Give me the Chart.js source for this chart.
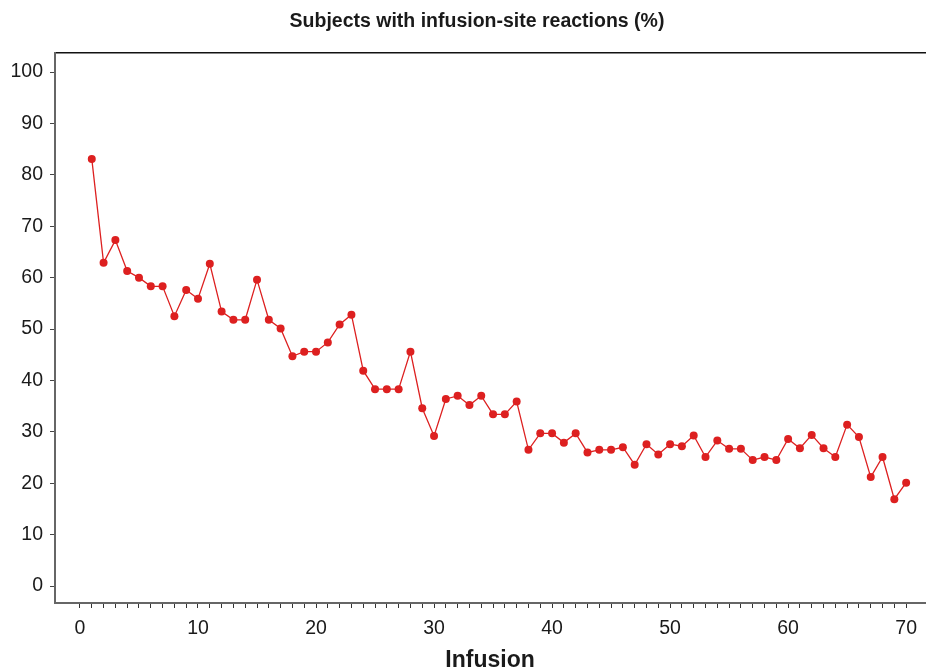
<!DOCTYPE html>
<html>
<head>
<meta charset="utf-8">
<script src="https://cdn.jsdelivr.net/npm/chart.js@4.4.1/dist/chart.umd.min.js"></script>
<style>
html,body{margin:0;padding:0;background:#fff;}
canvas{display:block;}
</style>
</head>
<body>
<canvas id="c" width="926" height="670"></canvas>
<script>
const chartTitle = "Subjects with infusion-site reactions (%)";
const xAxisTitle = "Infusion";
const infusions = [1,2,3,4,5,6,7,8,9,10,11,12,13,14,15,16,17,18,19,20,21,22,23,24,25,26,27,28,29,30,31,32,33,34,35,36,37,38,39,40,41,42,43,44,45,46,47,48,49,50,51,52,53,54,55,56,57,58,59,60,61,62,63,64,65,66,67,68,69,70];
const pctSubjects = [83.1,62.9,67.3,61.3,60.0,58.3,58.3,52.5,57.6,55.9,
  62.7,53.4,51.8,51.8,59.6,51.8,50.1,44.7,45.6,45.6,
  47.4,50.9,52.8,41.9,38.3,38.3,38.3,45.6,34.6,29.2,
  36.4,37.0,35.2,37.0,33.4,33.4,35.9,26.5,29.7,29.7,
  27.9,29.7,26.0,26.5,26.5,27.0,23.6,27.6,25.6,27.6,
  27.2,29.3,25.1,28.3,26.7,26.7,24.5,25.1,24.5,28.6,
  26.8,29.4,26.8,25.1,31.4,29.0,21.2,25.1,16.9,20.1];
const xMajorTicks = [0,10,20,30,40,50,60,70];
const yTicks = [0,10,20,30,40,50,60,70,80,90,100];

const xMinorTicks = [];
for (let v = 0; v <= 70; v++) xMinorTicks.push(v);

const points = infusions.map((x, i) => ({x: x, y: pctSubjects[i]}));
const red = '#dd2020';

const shiftTitle = {
  id: 'shiftTitle',
  afterLayout(chart) {
    if (chart.titleBlock) chart.titleBlock.left += 28;
  }
};

new Chart(document.getElementById('c'), {
  type: 'line',
  data: {
    datasets: [{
      data: points,
      borderColor: red,
      backgroundColor: red,
      borderWidth: 1.3,
      pointRadius: 4,
      pointBorderWidth: 0,
      pointBackgroundColor: red,
      tension: 0
    }]
  },
  plugins: [shiftTitle],
  options: {
    responsive: false,
    animation: false,
    devicePixelRatio: 1,
    layout: {padding: 0, autoPadding: false},
    plugins: {
      legend: {display: false},
      tooltip: {enabled: false},
      title: {
        display: true,
        text: chartTitle,
        color: '#1a1a1a',
        font: {family: 'Liberation Sans', size: 19.5, weight: 'bold'},
        padding: {top: 10, bottom: 19.6}
      }
    },
    scales: {
      x: {
        type: 'linear',
        position: 'bottom',
        min: -2.116,
        max: 71.61,
        afterBuildTicks: s => { s.ticks = xMinorTicks.map(v => ({value: v})); },
        afterFit: s => { s.height = 67; },
        grid: {
          display: true,
          drawOnChartArea: false,
          drawTicks: true,
          tickLength: 5,
          tickColor: '#333',
          tickWidth: 1
        },
        border: {display: true, color: '#666', width: 2},
        ticks: {
          autoSkip: false,
          maxRotation: 0,
          padding: 9,
          color: '#1a1a1a',
          font: {family: 'Liberation Sans', size: 19.5},
          callback: v => xMajorTicks.includes(v) ? String(v) : ''
        },
        title: {
          display: true,
          text: xAxisTitle,
          color: '#1a1a1a',
          font: {family: 'Liberation Sans', size: 23, weight: 'bold'},
          padding: {top: 0, bottom: -4}
        }
      },
      xTop: {
        type: 'linear',
        position: 'top',
        min: -2.116,
        max: 71.61,
        afterFit: s => { s.height = 0; },
        grid: {display: false, drawTicks: false},
        border: {display: true, color: '#111', width: 1.5},
        ticks: {display: false}
      },
      y: {
        type: 'linear',
        min: -3.3,
        max: 103.7,
        afterBuildTicks: s => { s.ticks = yTicks.map(v => ({value: v})); },
        afterFit: s => { s.width = 55; },
        grid: {
          display: true,
          drawOnChartArea: false,
          drawTicks: true,
          tickLength: 5,
          tickColor: '#444',
          tickWidth: 1
        },
        border: {display: true, color: '#666', width: 2},
        ticks: {
          padding: 7,
          color: '#1a1a1a',
          font: {family: 'Liberation Sans', size: 19.5}
        }
      }
    }
  }
});
</script>
</body>
</html>
